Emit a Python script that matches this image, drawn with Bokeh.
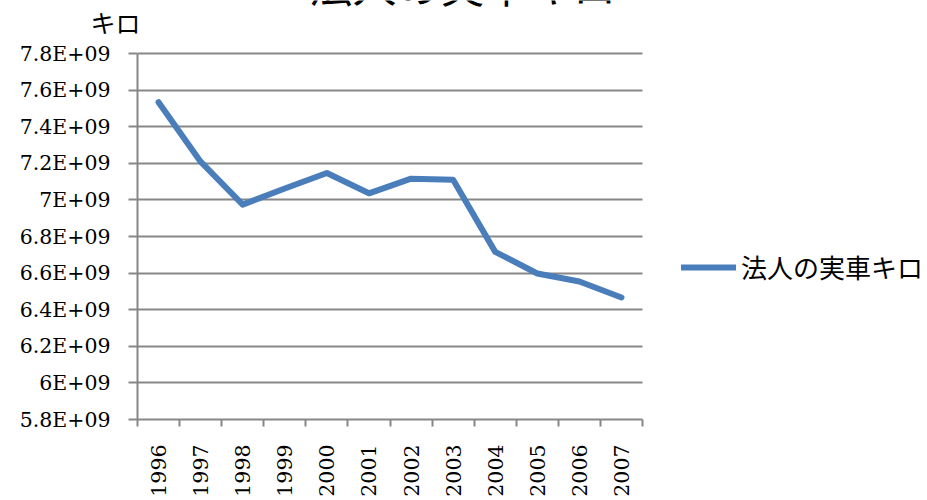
import numpy as np
from bokeh.plotting import figure
from bokeh.models import FixedTicker, Range1d, Label, Legend, LegendItem
from bokeh.embed import file_html
from bokeh.resources import INLINE

# 法人の実車キロ (km), fiscal years 1996-2007
years = ["1996", "1997", "1998", "1999", "2000", "2001",
         "2002", "2003", "2004", "2005", "2006", "2007"]
km_values = [7.534e9, 7.209e9, 6.974e9, 7.062e9, 7.147e9, 7.036e9,
             7.116e9, 7.110e9, 6.716e9, 6.598e9, 6.554e9, 6.467e9]
y_ticks = [5.8e9, 6.0e9, 6.2e9, 6.4e9, 6.6e9, 6.8e9,
           7.0e9, 7.2e9, 7.4e9, 7.6e9, 7.8e9]
y_tick_labels = ["5.8E+09", "6E+09", "6.2E+09", "6.4E+09", "6.6E+09", "6.8E+09",
                 "7E+09", "7.2E+09", "7.4E+09", "7.6E+09", "7.8E+09"]
title_text = "法人の実車キロ"
unit_text = "キロ"
series_name = "法人の実車キロ"

SERIF = "DejaVu Serif"
CJK = "Noto Sans CJK JP"
GREY = "#878787"
BLUE = "#4A7EBB"

n = len(years)
xs = np.arange(n) + 0.5  # category centres

# The frame reaches the top and right edges of the canvas so that the
# title and the legend can sit inside it; the axes and grid are bounded
# to the plotted area (categories 0..n, values 5.8E+09..7.8E+09).
PLOT_W, PLOT_H = 505, 366          # plotted area in px
FRAME_W, FRAME_H = 790, 419
x_end = n * FRAME_W / PLOT_W
y_end = y_ticks[0] + (y_ticks[-1] - y_ticks[0]) * FRAME_H / PLOT_H

p = figure(width=927, height=500, output_backend="svg", toolbar_location=None,
           x_range=Range1d(0, x_end), y_range=Range1d(y_ticks[0], y_end),
           min_border_left=137, min_border_right=0,
           min_border_top=0, min_border_bottom=81)
p.outline_line_color = None
p.background_fill_color = "white"
p.border_fill_color = "white"

line = p.line(xs, km_values, line_color=BLUE, line_width=6,
              line_cap="round", line_join="round")

# y axis
p.yaxis.bounds = (y_ticks[0], y_ticks[-1])
p.yaxis.ticker = FixedTicker(ticks=y_ticks)
p.yaxis.major_label_overrides = {t: s for t, s in zip(y_ticks, y_tick_labels)}
p.yaxis.major_label_text_font = SERIF
p.yaxis.major_label_text_font_size = "20.5px"
p.yaxis.major_label_text_color = "black"
p.yaxis.major_tick_out = 9
p.yaxis.major_tick_in = 0
p.yaxis.major_tick_line_color = GREY
p.yaxis.major_tick_line_width = 2
p.yaxis.minor_tick_line_color = None
p.yaxis.axis_line_color = GREY
p.yaxis.axis_line_width = 2
p.yaxis.major_label_standoff = 18

# unit label, written horizontally at the top of the value axis; the
# leading line break drops it just below the top edge of the canvas
p.yaxis.axis_label = "\n" + unit_text
p.yaxis.axis_label_text_font = CJK
p.yaxis.axis_label_text_font_size = "25px"
p.yaxis.axis_label_text_font_style = "normal"
p.yaxis.axis_label_text_color = "black"
p.yaxis.axis_label_text_line_height = 1.2
p.yaxis.axis_label_orientation = "horizontal"
p.yaxis.axis_label_standoff_mode = "axis"
p.yaxis.axis_label_standoff = -3
p.yaxis.axis_label_align = "end"

# x axis: labels at category centres, tick marks on category boundaries
p.xaxis.bounds = (0, n)
p.xaxis.ticker = FixedTicker(ticks=list(xs), minor_ticks=list(range(n + 1)))
p.xaxis.major_label_overrides = {float(x): y for x, y in zip(xs, years)}
p.xaxis.major_label_orientation = np.pi / 2
p.xaxis.major_label_text_font = SERIF
p.xaxis.major_label_text_font_size = "20.5px"
p.xaxis.major_label_text_color = "black"
p.xaxis.major_tick_line_color = None
p.xaxis.major_tick_out = 0
p.xaxis.major_tick_in = 0
p.xaxis.minor_tick_out = 7
p.xaxis.minor_tick_in = 0
p.xaxis.minor_tick_line_color = GREY
p.xaxis.minor_tick_line_width = 2
p.xaxis.axis_line_color = GREY
p.xaxis.axis_line_width = 2
p.xaxis.major_label_standoff = 18

p.xgrid.grid_line_color = None
p.ygrid.ticker = FixedTicker(ticks=y_ticks)
p.ygrid.cross_bounds = (0, n)
p.ygrid.grid_line_color = GREY
p.ygrid.grid_line_width = 2

# chart title
p.add_layout(Label(x=325, y=404, x_units="screen", y_units="screen",
                   text=title_text, text_font=CJK, text_font_size="44px",
                   text_align="center", text_baseline="bottom", text_color="black"))

legend = Legend(items=[LegendItem(label=series_name, renderers=[line])],
                location=(544, 134), border_line_color=None,
                background_fill_alpha=0, padding=0, margin=0,
                glyph_width=55, glyph_height=30, label_standoff=5,
                label_text_font=CJK, label_text_font_size="26px",
                label_text_color="black")
p.add_layout(legend, "center")

open("out.html", "w").write(file_html(p, INLINE))
